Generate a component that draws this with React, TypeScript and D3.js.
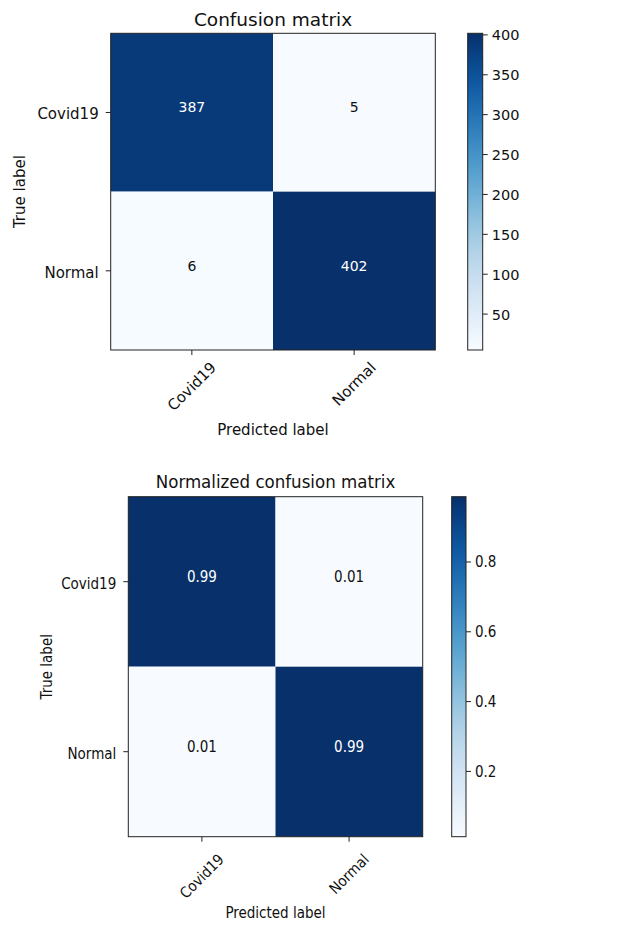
import React, { useEffect, useRef } from "react";
import * as d3 from "d3";

const classes = ["Covid19", "Normal"];
const countMatrix = [
  [387, 5],
  [6, 402],
];
const normMatrix = [
  [0.987, 0.013],
  [0.015, 0.986],
];
const countTicks = [50, 100, 150, 200, 250, 300, 350, 400];
const normTicks = [0.2, 0.4, 0.6, 0.8];

type Panel = {
  title: string;
  matrix: number[][];
  ticks: number[];
  fmtCell: (v: number) => string;
  fmtTick: (v: number) => string;
  font: string;
  box: { x0: number; x1: number; y0: number; y1: number };
  cbar: { x0: number; x1: number };
  titleY: number;
  xLabelY: number;
  yLabelX: number;
  xTickTop: number;
  cellSize: number;
  cbarSize: number;
};

const panels: Panel[] = [
  {
    title: "Confusion matrix",
    matrix: countMatrix,
    ticks: countTicks,
    fmtCell: (v) => d3.format("d")(v),
    fmtTick: (v) => d3.format("d")(v),
    font: "DejaVu Sans",
    box: { x0: 110.7, x1: 435.3, y0: 33.3, y1: 350 },
    cbar: { x0: 467.7, x1: 482.7 },
    titleY: 26,
    xLabelY: 435,
    yLabelX: 25,
    xTickTop: 361,
    cellSize: 14,
    cbarSize: 14.5,
  },
  {
    title: "Normalized confusion matrix",
    matrix: normMatrix,
    ticks: normTicks,
    fmtCell: (v) => d3.format(".2f")(v),
    fmtTick: (v) => d3.format(".1f")(v),
    font: "DejaVu Sans Condensed",
    box: { x0: 128.3, x1: 422.7, y0: 496.7, y1: 836.7 },
    cbar: { x0: 451.7, x1: 466 },
    titleY: 488,
    xLabelY: 918,
    yLabelX: 51.5,
    xTickTop: 853,
    cellSize: 15,
    cbarSize: 15,
  },
];

export default function App() {
  const ref = useRef<SVGSVGElement>(null);

  useEffect(() => {
    const svg = d3.select(ref.current);
    svg.selectAll("*").remove();
    const defs = svg.append("defs");

    panels.forEach((p, pi) => {
      const g = svg.append("g").attr("font-family", `'${p.font}', 'DejaVu Sans', sans-serif`);
      const flat = p.matrix.flat();
      const ext = d3.extent(flat) as [number, number];
      const color = d3.scaleSequential(d3.interpolateBlues).domain(ext);
      const thresh = ext[1] / 2;

      const x = d3.scaleBand<string>().domain(classes).range([p.box.x0, p.box.x1]);
      const y = d3.scaleBand<string>().domain(classes).range([p.box.y0, p.box.y1]);

      // cells
      classes.forEach((rc, i) => {
        classes.forEach((cc, j) => {
          const v = p.matrix[i][j];
          g.append("rect")
            .attr("x", x(cc)!)
            .attr("y", y(rc)!)
            .attr("width", x.bandwidth())
            .attr("height", y.bandwidth())
            .attr("fill", color(v));
          g.append("text")
            .attr("x", x(cc)! + x.bandwidth() / 2)
            .attr("y", y(rc)! + y.bandwidth() / 2)
            .attr("text-anchor", "middle")
            .attr("font-size", p.cellSize)
            .attr("fill", v > thresh ? "#ffffff" : "#111111")
            .text(p.fmtCell(v));
        });
      });

      // frame
      g.append("rect")
        .attr("x", p.box.x0)
        .attr("y", p.box.y0)
        .attr("width", p.box.x1 - p.box.x0)
        .attr("height", p.box.y1 - p.box.y0)
        .attr("fill", "none")
        .attr("stroke", "#222")
        .attr("stroke-width", 1);

      // title
      g.append("text")
        .attr("x", (p.box.x0 + p.box.x1) / 2)
        .attr("y", p.titleY)
        .attr("text-anchor", "middle")
        .attr("font-size", 18.5)
        .attr("fill", "#111")
        .text(p.title);

      // y ticks
      classes.forEach((c) => {
        const ty = y(c)! + y.bandwidth() / 2;
        g.append("line")
          .attr("x1", p.box.x0 - 5)
          .attr("x2", p.box.x0)
          .attr("y1", ty)
          .attr("y2", ty)
          .attr("stroke", "#222");
        g.append("text")
          .attr("x", p.box.x0 - 12)
          .attr("y", ty + 7)
          .attr("text-anchor", "end")
          .attr("font-size", 15)
          .attr("fill", "#111")
          .text(c);
      });

      // x ticks
      classes.forEach((c) => {
        const tx = x(c)! + x.bandwidth() / 2;
        g.append("line")
          .attr("x1", tx)
          .attr("x2", tx)
          .attr("y1", p.box.y1)
          .attr("y2", p.box.y1 + 5)
          .attr("stroke", "#222");
        const t = g
          .append("text")
          .attr("text-anchor", "middle")
          .attr("dominant-baseline", "central")
          .attr("font-size", 15)
          .attr("fill", "#111")
          .text(c);
        const w = (t.node() as SVGTextElement).getComputedTextLength();
        const h = 11;
        const bb = (w + h) / Math.SQRT2;
        t.attr("transform", `translate(${tx},${p.xTickTop + bb / 2}) rotate(-45)`);
      });

      // axis labels
      g.append("text")
        .attr("x", (p.box.x0 + p.box.x1) / 2)
        .attr("y", p.xLabelY)
        .attr("text-anchor", "middle")
        .attr("font-size", 15)
        .attr("fill", "#111")
        .text("Predicted label");
      g.append("text")
        .attr("transform", `translate(${p.yLabelX},${(p.box.y0 + p.box.y1) / 2}) rotate(-90)`)
        .attr("text-anchor", "middle")
        .attr("font-size", 15)
        .attr("fill", "#111")
        .text("True label");

      // colorbar
      const gid = `cbgrad${pi}`;
      const grad = defs
        .append("linearGradient")
        .attr("id", gid)
        .attr("x1", 0)
        .attr("x2", 0)
        .attr("y1", 1)
        .attr("y2", 0);
      d3.range(0, 1.0001, 0.05).forEach((t) => {
        grad.append("stop").attr("offset", t).attr("stop-color", d3.interpolateBlues(t));
      });
      const cy = d3.scaleLinear().domain(ext).range([p.box.y1, p.box.y0]);
      g.append("rect")
        .attr("x", p.cbar.x0)
        .attr("y", p.box.y0)
        .attr("width", p.cbar.x1 - p.cbar.x0)
        .attr("height", p.box.y1 - p.box.y0)
        .attr("fill", `url(#${gid})`)
        .attr("stroke", "#222")
        .attr("stroke-width", 1);
      p.ticks.forEach((tv) => {
        const ty = cy(tv);
        g.append("line")
          .attr("x1", p.cbar.x1)
          .attr("x2", p.cbar.x1 + 5)
          .attr("y1", ty)
          .attr("y2", ty)
          .attr("stroke", "#222");
        g.append("text")
          .attr("x", p.cbar.x1 + 9)
          .attr("y", ty + 5.5)
          .attr("font-size", p.cbarSize)
          .attr("fill", "#111")
          .text(p.fmtTick(tv));
      });
    });
  }, []);

  return (
    <svg
      ref={ref}
      width={620}
      height={931}
      style={{ position: "absolute", left: 0, top: 0, background: "#fff" }}
    />
  );
}
